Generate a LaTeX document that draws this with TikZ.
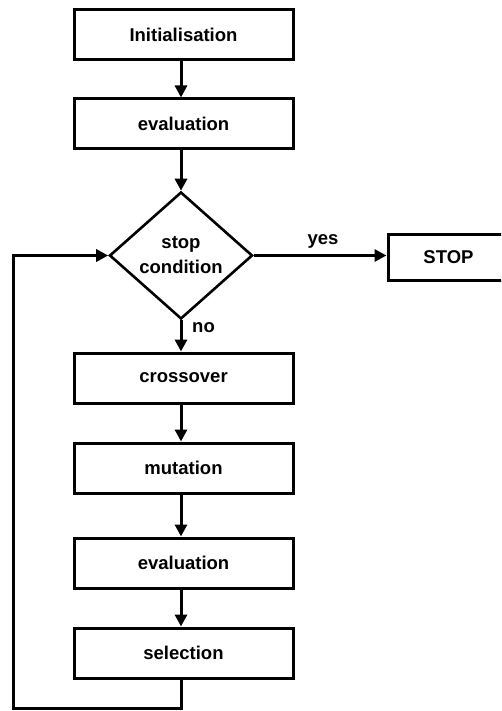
\documentclass[tikz,border=0pt]{standalone}
\usepackage{fontspec}
\setmainfont{Liberation Sans}
\usetikzlibrary{arrows.meta,shapes.geometric}
\begin{document}
\begin{tikzpicture}[x=1pt,y=-1pt,
  every node/.style={font=\fontsize{18.5}{22}\selectfont\bfseries},
  stepbox/.style={draw,line width=3pt,rectangle,minimum width=219pt,minimum height=50pt,inner sep=0pt},
  decision/.style={draw,line width=2.6pt,diamond,minimum width=143pt,minimum height=127pt,inner sep=0pt,aspect=1.126,align=center},
  flow/.style={line width=3pt,line join=miter,-{Triangle[length=12pt,width=12pt]}},
  lbl/.style={inner sep=0pt}]
\clip (0,0) rectangle (501,711);
\fill[white] (0,0) rectangle (501,711);
\node[stepbox] (init) at (183.5,35) {Initialisation};
\node[stepbox] (eval1) at (183.5,124) {evaluation};
\node[decision] (cond) at (181,255.5) {stop\\[3pt]condition};
\node[stepbox,minimum width=121pt,minimum height=46pt] (stop) at (448.5,257.5) {STOP};
\node[stepbox] (cross) at (183.5,378) {crossover};
\node[stepbox] (mut) at (183.5,468) {mutation};
\node[stepbox] (eval2) at (183.5,563) {evaluation};
\node[stepbox] (sel) at (183.5,653) {selection};
\coordinate (c1) at (181,708);
\coordinate (c2) at (13,708);
\coordinate (c3) at (13,255.5);
\node[lbl] (yes) at (323,241) {yes};
\node[lbl,anchor=west] (no) at (192,328) {no};
\draw[flow] (init.south -| 181,0) -- (eval1.north -| 181,0);
\draw[flow] (eval1.south -| 181,0) -- (cond.north);
\draw[flow] (cond.east) -- (cond.east -| stop.west);
\draw[flow] (cond.south) -- (cross.north -| cond.south);
\draw[flow] (cross.south -| 181,0) -- (mut.north -| 181,0);
\draw[flow] (mut.south -| 181,0) -- (eval2.north -| 181,0);
\draw[flow] (eval2.south -| 181,0) -- (sel.north -| 181,0);
\draw[flow] (sel.south -| c1) -- (c1) -- (c2) -- (c3) -- (cond.west);
\end{tikzpicture}
\end{document}
